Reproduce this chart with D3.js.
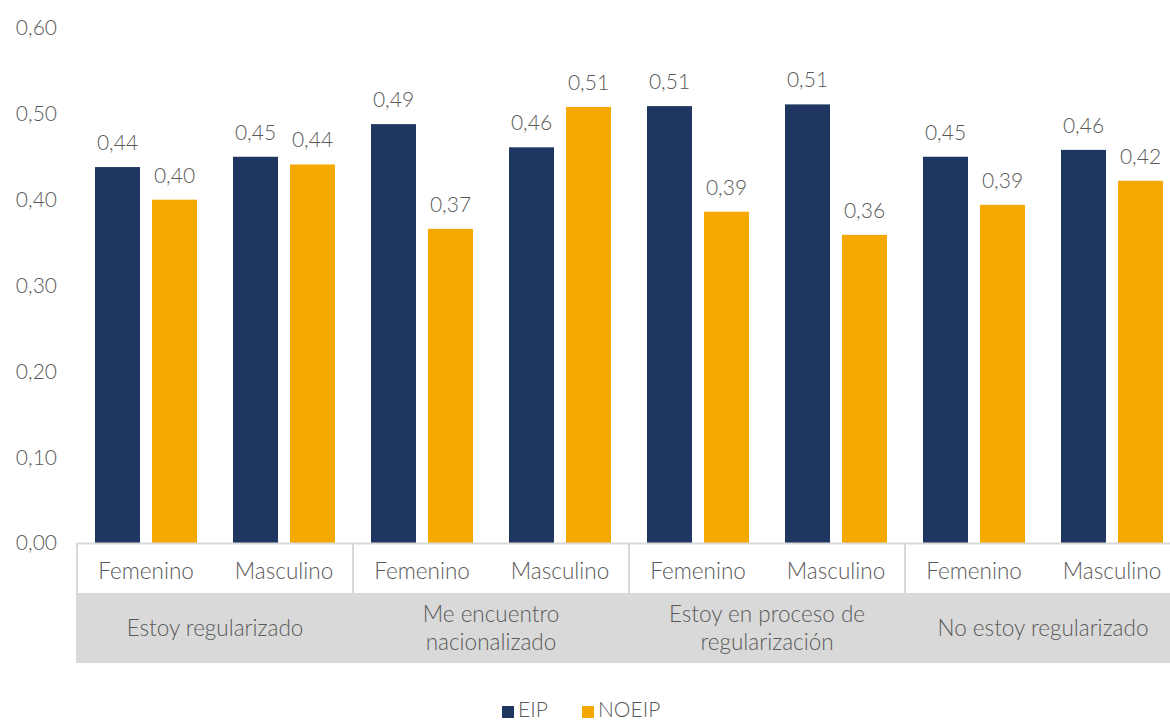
<!DOCTYPE html>
<html>
<head>
<meta charset="utf-8">
<script src="https://cdn.jsdelivr.net/npm/d3@7"></script>
<style>
  body { margin: 0; background: #fff; }
  text { font-family: Lato, "Open Sans", sans-serif; font-weight: 300; fill: #595959; }
</style>
</head>
<body>
<div id="chart"></div>
<script>
(function () {

  // Data

  var groups = ["Estoy regularizado", "Me encuentro nacionalizado", "Estoy en proceso de regularización", "No estoy regularizado"]
  var groupLines = [["Estoy regularizado"], ["Me encuentro", "nacionalizado"], ["Estoy en proceso de", "regularización"], ["No estoy regularizado"]]
  var sexes = ["Femenino", "Masculino"]
  var series = ["EIP", "NOEIP"]
  // values by group, then sex
  var eip = [0.438, 0.450, 0.488, 0.461, 0.509, 0.511, 0.450, 0.458]
  var noeip = [0.400, 0.441, 0.366, 0.508, 0.386, 0.359, 0.394, 0.422]
  var yTicks = [0, 0.1, 0.2, 0.3, 0.4, 0.5, 0.6]

  var colors = { EIP: "#1F3660", NOEIP: "#F5A800" }

  var width = 1170, height = 720

  var svg = d3.select("#chart").append("svg")
      .attr("width", width)
      .attr("height", height)

  // plot runs a bit past the right edge, like the original
  var x0 = 77, x1 = 1181
  var yBase = 543

  var y = d3.scaleLinear().domain([0, 0.6]).range([yBase, 28])

  var xGroup = d3.scaleBand().domain(groups).range([x0, x1])
  var xSub = d3.scaleBand().domain(sexes).range([0, xGroup.bandwidth()])

  var rows = []
  groups.forEach(function (g, gi) {
    sexes.forEach(function (s, si) {
      var i = gi * 2 + si
      rows.push({ group: g, sex: s, EIP: eip[i], NOEIP: noeip[i] })
    })
  })

  var barW = 45, gap = 12
  var fmt = function (v) { return d3.format(".2f")(v).replace(".", ",") }

  // Y axis labels

  svg.selectAll(".ytick")
    .data(yTicks)
    .enter().append("text")
    .attr("class", "ytick")
    .attr("x", 57)
    .attr("y", function (d) { return y(d) })
    .attr("dy", "0.35em")
    .attr("text-anchor", "end")
    .style("font-size", "21px")
    .text(fmt)

  // Bars + value labels

  rows.forEach(function (r) {
    var cx = xGroup(r.group) + xSub(r.sex) + xSub.bandwidth() / 2
    series.forEach(function (s, si) {
      var bx = si === 0 ? cx - gap / 2 - barW : cx + gap / 2
      svg.append("rect")
        .attr("x", bx)
        .attr("y", y(r[s]))
        .attr("width", barW)
        .attr("height", yBase - y(r[s]))
        .attr("fill", colors[s])
      svg.append("text")
        .attr("x", bx + barW / 2)
        .attr("y", y(r[s]) - 17)
        .attr("text-anchor", "middle")
        .style("font-size", "21px")
        .text(fmt(r[s]))
    })
  })

  // Category axis: sex row

  var lineCol = "#d9d9d9"

  svg.append("line")
    .attr("x1", x0).attr("x2", width)
    .attr("y1", yBase + 0.5).attr("y2", yBase + 0.5)
    .attr("stroke", lineCol).attr("stroke-width", 2)

  groups.forEach(function (g) {
    svg.append("line")
      .attr("x1", xGroup(g)).attr("x2", xGroup(g))
      .attr("y1", yBase).attr("y2", 593)
      .attr("stroke", lineCol).attr("stroke-width", 2)
  })

  rows.forEach(function (r) {
    svg.append("text")
      .attr("x", xGroup(r.group) + xSub(r.sex) + xSub.bandwidth() / 2)
      .attr("y", 571)
      .attr("dy", "0.35em")
      .attr("text-anchor", "middle")
      .style("font-size", "22.5px")
      .text(r.sex)
  })

  // Category axis: group row

  svg.append("rect")
    .attr("x", x0 - 1).attr("y", 593)
    .attr("width", width - x0 + 1).attr("height", 70)
    .attr("fill", "#d9d9d9")

  groups.forEach(function (g, gi) {
    var lines = groupLines[gi]
    var t = svg.append("text")
      .attr("text-anchor", "middle")
      .style("font-size", "22.5px")
    lines.forEach(function (l, li) {
      t.append("tspan")
        .attr("x", xGroup(g) + xGroup.bandwidth() / 2)
        .attr("y", 628 + (li - (lines.length - 1) / 2) * 28)
        .attr("dy", "0.35em")
        .text(l)
    })
  })

  // Legend

  var legendX = [502, 582]
  series.forEach(function (s, i) {
    svg.append("rect")
      .attr("x", legendX[i]).attr("y", 706)
      .attr("width", 12).attr("height", 12)
      .attr("fill", colors[s])
    svg.append("text")
      .attr("x", legendX[i] + 16)
      .attr("y", 710)
      .attr("dy", "0.35em")
      .style("font-size", "21px")
      .text(s)
  })

})()
</script>
</body>
</html>
